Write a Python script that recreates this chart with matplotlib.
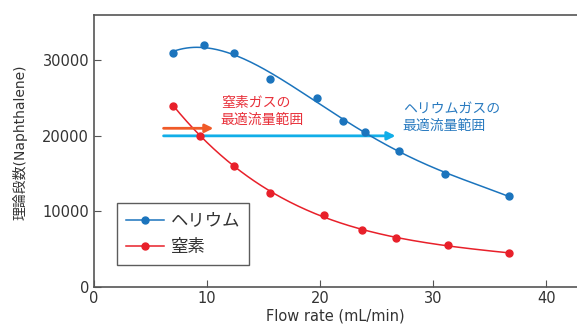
import numpy as np
import matplotlib
matplotlib.use("Agg")
import matplotlib.pyplot as plt

plt.rcParams['font.family'] = ['DejaVu Sans', 'Noto Sans CJK JP']

he_x = [7.0, 9.7, 12.4, 15.6, 19.7, 22.0, 24.0, 27.0, 31.0, 36.7]
he_y = [31000, 32000, 31000, 27500, 25000, 22000, 20500, 18000, 15000, 12000]
n2_x = [7.0, 9.4, 12.4, 15.6, 20.3, 23.7, 26.7, 31.3, 36.7]
n2_y = [24000, 20000, 16000, 12500, 9500, 7500, 6500, 5500, 4500]

he_color = '#1b74bd'
n2_color = '#e8202a'
txt = '#333333'

fig = plt.figure(figsize=(5.77, 3.25), dpi=100)
ax = fig.add_axes([0.163, 0.117, 0.837, 0.837])

def smooth(x, y, deg):
    p = np.polyfit(x, y, deg)
    xs = np.linspace(min(x), max(x), 200)
    return xs, np.polyval(p, xs)

xs, ys = smooth(he_x, he_y, 4)
ax.plot(xs, ys, color=he_color, lw=1.1, zorder=3)
ax.plot(he_x, he_y, 'o', color=he_color, ms=5, zorder=4)
xs, ys = smooth(n2_x, n2_y, 4)
ax.plot(xs, ys, color=n2_color, lw=1.1, zorder=3)
ax.plot(n2_x, n2_y, 'o', color=n2_color, ms=5, zorder=4)

ax.plot([], [], '-o', color=he_color, ms=5, lw=1.1, label='ヘリウム')
ax.plot([], [], '-o', color=n2_color, ms=5, lw=1.1, label='窒素')
handles, labels = ax.get_legend_handles_labels()
leg = ax.legend(handles[-2:], labels[-2:], loc='lower left', bbox_to_anchor=(0.048, 0.081),
                prop={'family': ['Noto Sans CJK JP'], 'size': 12.5},
                frameon=True, fancybox=False, edgecolor='#333333',
                handlelength=2.2, handletextpad=0.4, borderpad=0.5, labelspacing=0.5,
                borderaxespad=0)
leg.get_frame().set_linewidth(1.0)
for t in leg.get_texts():
    t.set_color(txt)

ax.annotate('', xy=(10.8, 21000), xytext=(5.9, 21000),
            arrowprops=dict(arrowstyle='-|>', color='#f05a28', lw=2, mutation_scale=12), zorder=5)
ax.annotate('', xy=(26.9, 20000), xytext=(5.9, 20000),
            arrowprops=dict(arrowstyle='-|>', color='#11aee8', lw=2, mutation_scale=12), zorder=2)

ax.text(11.2, 23200, '窒素ガスの\n最適流量範囲', color='#e8303a', fontsize=10,
        family=['Noto Sans CJK JP'], va='center', ha='left', linespacing=1.25)
ax.text(27.3, 22400, 'ヘリウムガスの\n最適流量範囲', color='#2a7bc0', fontsize=10,
        family=['Noto Sans CJK JP'], va='center', ha='left', linespacing=1.25)

ax.set_xlim(0, 42.7)
ax.set_ylim(0, 36000)
ax.set_xticks([0, 10, 20, 30, 40])
ax.set_yticks([0, 10000, 20000, 30000])
ax.spines['right'].set_visible(False)
for s in ['left', 'bottom', 'top']:
    ax.spines[s].set_color('#555555')
    ax.spines[s].set_linewidth(1.2)
ax.tick_params(direction='in', length=5, color='#555555', labelcolor=txt, labelsize=10.5)
ax.tick_params(axis='x', top=False, pad=3)
ax.set_xlabel('Flow rate (mL/min)', color=txt, fontsize=10.5, labelpad=2)
ax.set_ylabel('理論段数(Naphthalene)', color=txt, fontsize=10)
ax.yaxis.set_label_coords(-0.137, 0.533)

fig.savefig('out.png', dpi=100)
